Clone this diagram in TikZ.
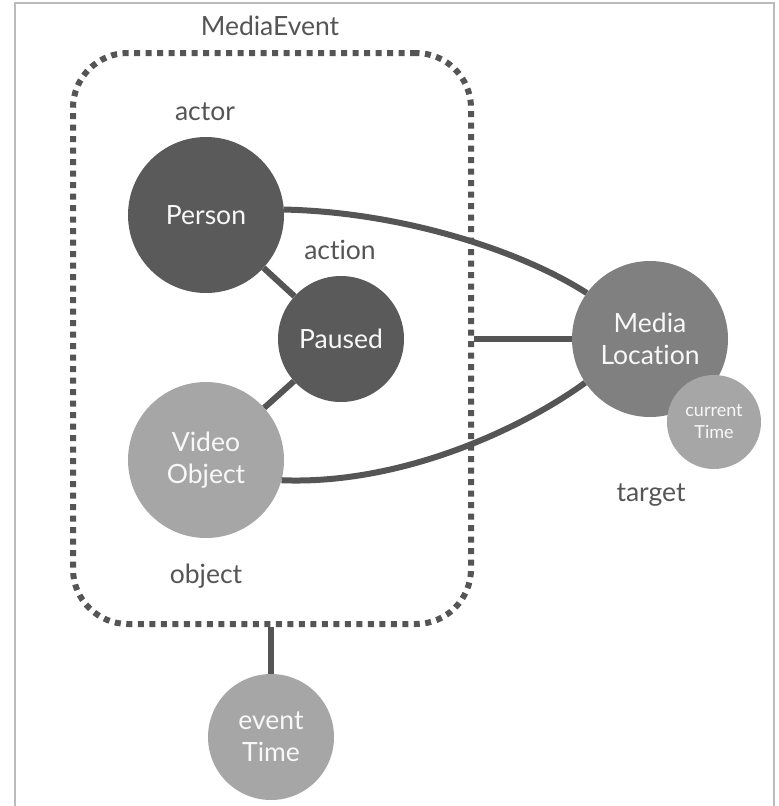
\documentclass[tikz,border=0pt]{standalone}
\usepackage{fontspec}
\setmainfont{Lato}[Ligatures={NoCommon}]
\definecolor{dark}{HTML}{5A5A5A}
\definecolor{mid}{HTML}{808080}
\definecolor{light}{HTML}{A6A6A6}
\definecolor{linec}{HTML}{555555}
\definecolor{framec}{HTML}{BBBBBB}
\definecolor{intext}{HTML}{F8F8F8}
\tikzset{
  bubble/.style={circle, inner sep=0pt, draw=none, text=intext, align=center,
    font=\fontsize{26.5}{32}\selectfont},
  lbl/.style={text=linec, inner sep=0pt, font=\fontsize{26.5}{32}\selectfont},
  conn/.style={draw=linec, line width=6pt},
}
\begin{document}
\begin{tikzpicture}[x=1pt,y=-1pt]
\useasboundingbox (0,0) rectangle (779,806);
\fill[white] (0,0) rectangle (779,806);
\draw[framec, line width=1.5pt] (15,806) -- (15,3) -- (774,3) -- (774,806);

% dotted box
\node[draw=linec, line width=6pt, dash pattern=on 6pt off 5.5pt, rounded corners=55pt,
  minimum width=398pt, minimum height=571pt, inner sep=0pt] (box) at (272,338.5) {};

% circles
\node[bubble, fill=dark, minimum size=156pt] (person) at (206,215) {Person};
\node[bubble, fill=dark, minimum size=126pt] (paused) at (341,339) {Paused};
\node[bubble, fill=light, minimum size=156pt] (video) at (206,460) {Video\\Object};
\node[bubble, fill=mid, minimum size=156pt] (medialoc) at (650,339) {Media\\Location};
\node[bubble, fill=light, minimum size=94pt, font=\fontsize{18}{22}\selectfont] (curtime) at (714,422) {current\\Time};
\node[bubble, fill=light, minimum size=126pt] (eventtime) at (271,737) {event\\Time};

% labels
\node[lbl] (mediaevent) at (270,26) {MediaEvent};
\node[lbl] (actor) at (205,112) {actor};
\node[lbl] (action) at (340,250) {action};
\node[lbl] (object) at (206,576) {object};
\node[lbl] (target) at (651,495) {target};

% connectors
\draw[conn] (person) -- (paused);
\draw[conn] (paused) -- (video);
\draw[conn] (person.4) .. controls (400,212) and (520,250) .. (medialoc.144);
\draw[conn] (video.-15) .. controls (400,485) and (520,430) .. (medialoc.-146);
\draw[conn] (medialoc.west -| box.east) -- (medialoc.west);
\draw[conn] (eventtime.north |- box.south) -- (eventtime.north);
\end{tikzpicture}
\end{document}
